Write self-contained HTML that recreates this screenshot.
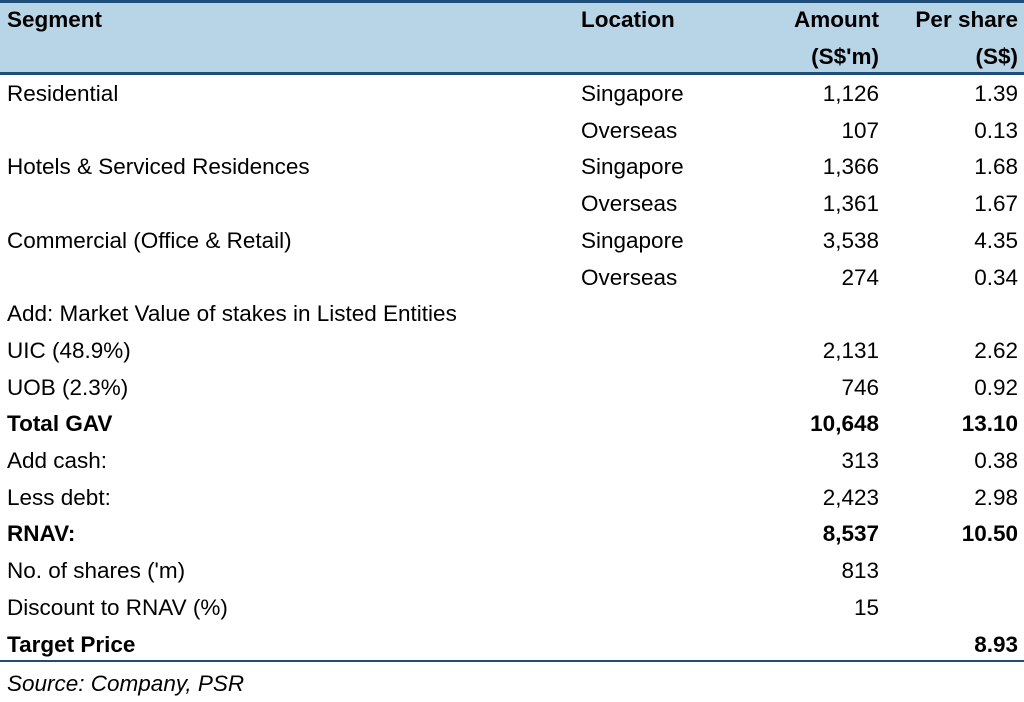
<!DOCTYPE html>
<html><head><meta charset="utf-8"><style>
body{margin:0;width:1024px;height:701px;background:#fff;overflow:hidden;font-family:"Liberation Sans",sans-serif;font-size:22.5px;color:#000;position:relative}
.hdr{position:absolute;left:0;top:0;width:1024px;height:75px;background:#b8d4e7;border-top:3px solid #1f4e79;border-bottom:3px solid #1f4e79;box-sizing:border-box}
.r{position:absolute;left:0;width:1024px;height:36.7px;line-height:36.7px}
.r span{position:absolute;white-space:nowrap}
.a{left:7px}.b{left:581px}.c{right:145px}.d{right:6px}
.bold{font-weight:bold}
.bot{position:absolute;left:0;top:660px;width:1024px;height:2px;background:#1f4e79}
.src{position:absolute;left:7px;top:666px;font-style:italic;line-height:36px}
</style></head><body>
<div class="hdr"></div>
<div class="r bold" style="top:2px"><span class="a">Segment</span><span class="b">Location</span><span class="c">Amount</span><span class="d">Per share</span></div>
<div class="r bold" style="top:38.5px"><span class="c">(S$'m)</span><span class="d">(S$)</span></div>
<div id="rows"></div>
<div class="bot"></div>
<div class="src">Source: Company, PSR</div>
<script>
const segs=["Residential","","Hotels & Serviced Residences","","Commercial (Office & Retail)","","Add: Market Value of stakes in Listed Entities","UIC (48.9%)","UOB (2.3%)","Total GAV","Add cash:","Less debt:","RNAV:","No. of shares ('m)","Discount to RNAV (%)","Target Price"];
const locs=["Singapore","Overseas","Singapore","Overseas","Singapore","Overseas","","","","","","","","","",""];
const amts=["1,126","107","1,366","1,361","3,538","274","","2,131","746","10,648","313","2,423","8,537","813","15",""];
const pers=["1.39","0.13","1.68","1.67","4.35","0.34","","2.62","0.92","13.10","0.38","2.98","10.50","","","8.93"];
const bolds=[9,12,15];
const host=document.getElementById('rows');
segs.forEach((s,i)=>{
  const r=document.createElement('div');
  r.className='r'+(bolds.includes(i)?' bold':'');
  r.style.top=(76+36.7*i)+'px';
  
  
  [['a',s],['b',locs[i]],['c',amts[i]],['d',pers[i]]].forEach(([c,t])=>{
    if(!t)return;
    const sp=document.createElement('span');
    sp.className=c;sp.textContent=t;
    
    
    r.appendChild(sp);
  });
  host.appendChild(r);
});
</script>
</body></html>
